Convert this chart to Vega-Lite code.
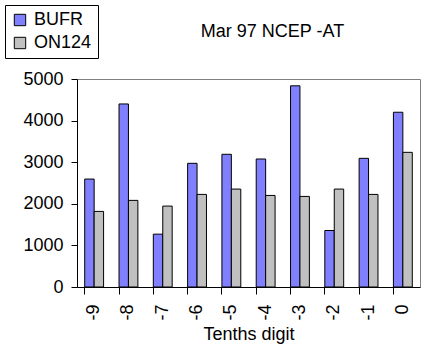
{
  "$schema": "https://vega.github.io/schema/vega-lite/v6.json",
  "autosize": "none",
  "width": 343,
  "height": 208,
  "padding": {"left": 77, "top": 79, "right": 7, "bottom": 66},
  "background": "white",
  "config": {
    "font": "Liberation Sans",
    "view": {"stroke": "#808080", "strokeWidth": 1}
  },
  "title": {
    "text": "Mar 97 NCEP -AT",
    "frame": "group",
    "fontSize": 18,
    "fontWeight": "normal",
    "font": "Liberation Sans",
    "color": "black",
    "anchor": "middle",
    "dx": 24,
    "offset": -36
  },
  "data": {
    "values": [
      {"digit": "-9", "series": "BUFR", "count": 2595},
      {"digit": "-9", "series": "ON124", "count": 1817},
      {"digit": "-8", "series": "BUFR", "count": 4400},
      {"digit": "-8", "series": "ON124", "count": 2082},
      {"digit": "-7", "series": "BUFR", "count": 1270},
      {"digit": "-7", "series": "ON124", "count": 1945},
      {"digit": "-6", "series": "BUFR", "count": 2973},
      {"digit": "-6", "series": "ON124", "count": 2226},
      {"digit": "-5", "series": "BUFR", "count": 3190},
      {"digit": "-5", "series": "ON124", "count": 2354},
      {"digit": "-4", "series": "BUFR", "count": 3077},
      {"digit": "-4", "series": "ON124", "count": 2201},
      {"digit": "-3", "series": "BUFR", "count": 4836},
      {"digit": "-3", "series": "ON124", "count": 2177},
      {"digit": "-2", "series": "BUFR", "count": 1358},
      {"digit": "-2", "series": "ON124", "count": 2354},
      {"digit": "-1", "series": "BUFR", "count": 3093},
      {"digit": "-1", "series": "ON124", "count": 2226},
      {"digit": "0", "series": "BUFR", "count": 4201},
      {"digit": "0", "series": "ON124", "count": 3237}
    ]
  },
  "mark": {"type": "bar", "stroke": "black", "strokeWidth": 1},
  "encoding": {
    "x": {
      "field": "digit",
      "type": "nominal",
      "sort": ["-9", "-8", "-7", "-6", "-5", "-4", "-3", "-2", "-1", "0"],
      "scale": {"paddingInner": 0.45, "paddingOuter": 0.225},
      "axis": {
        "title": "Tenths digit",
        "titleFontSize": 18,
        "titleFontWeight": "normal",
        "titleColor": "black",
        "titlePadding": 5,
        "labelAngle": 270,
        "labelFontSize": 18,
        "labelColor": "black",
        "labelPadding": 10,
        "bandPosition": 0,
        "tickSize": 7,
        "tickColor": "black",
        "domainColor": "black",
        "grid": false
      }
    },
    "xOffset": {"field": "series", "type": "nominal"},
    "y": {
      "field": "count",
      "type": "quantitative",
      "scale": {"domain": [0, 5000]},
      "axis": {
        "title": null,
        "values": [0, 1000, 2000, 3000, 4000, 5000],
        "format": "d",
        "labelFontSize": 18,
        "labelColor": "black",
        "labelPadding": 8,
        "tickSize": 6,
        "tickColor": "black",
        "domainColor": "black",
        "grid": false
      }
    },
    "color": {
      "field": "series",
      "type": "nominal",
      "scale": {"domain": ["BUFR", "ON124"], "range": ["#8080FF", "#C0C0C0"]},
      "legend": {
        "title": null,
        "orient": "none",
        "legendX": -72,
        "legendY": -74,
        "symbolType": "square",
        "symbolSize": 130,
        "symbolStrokeColor": "black",
        "symbolStrokeWidth": 1,
        "labelFontSize": 18,
        "labelColor": "black",
        "strokeColor": "black",
        "fillColor": "white",
        "padding": 6,
        "rowPadding": 5,
        "labelOffset": 5
      }
    }
  }
}
